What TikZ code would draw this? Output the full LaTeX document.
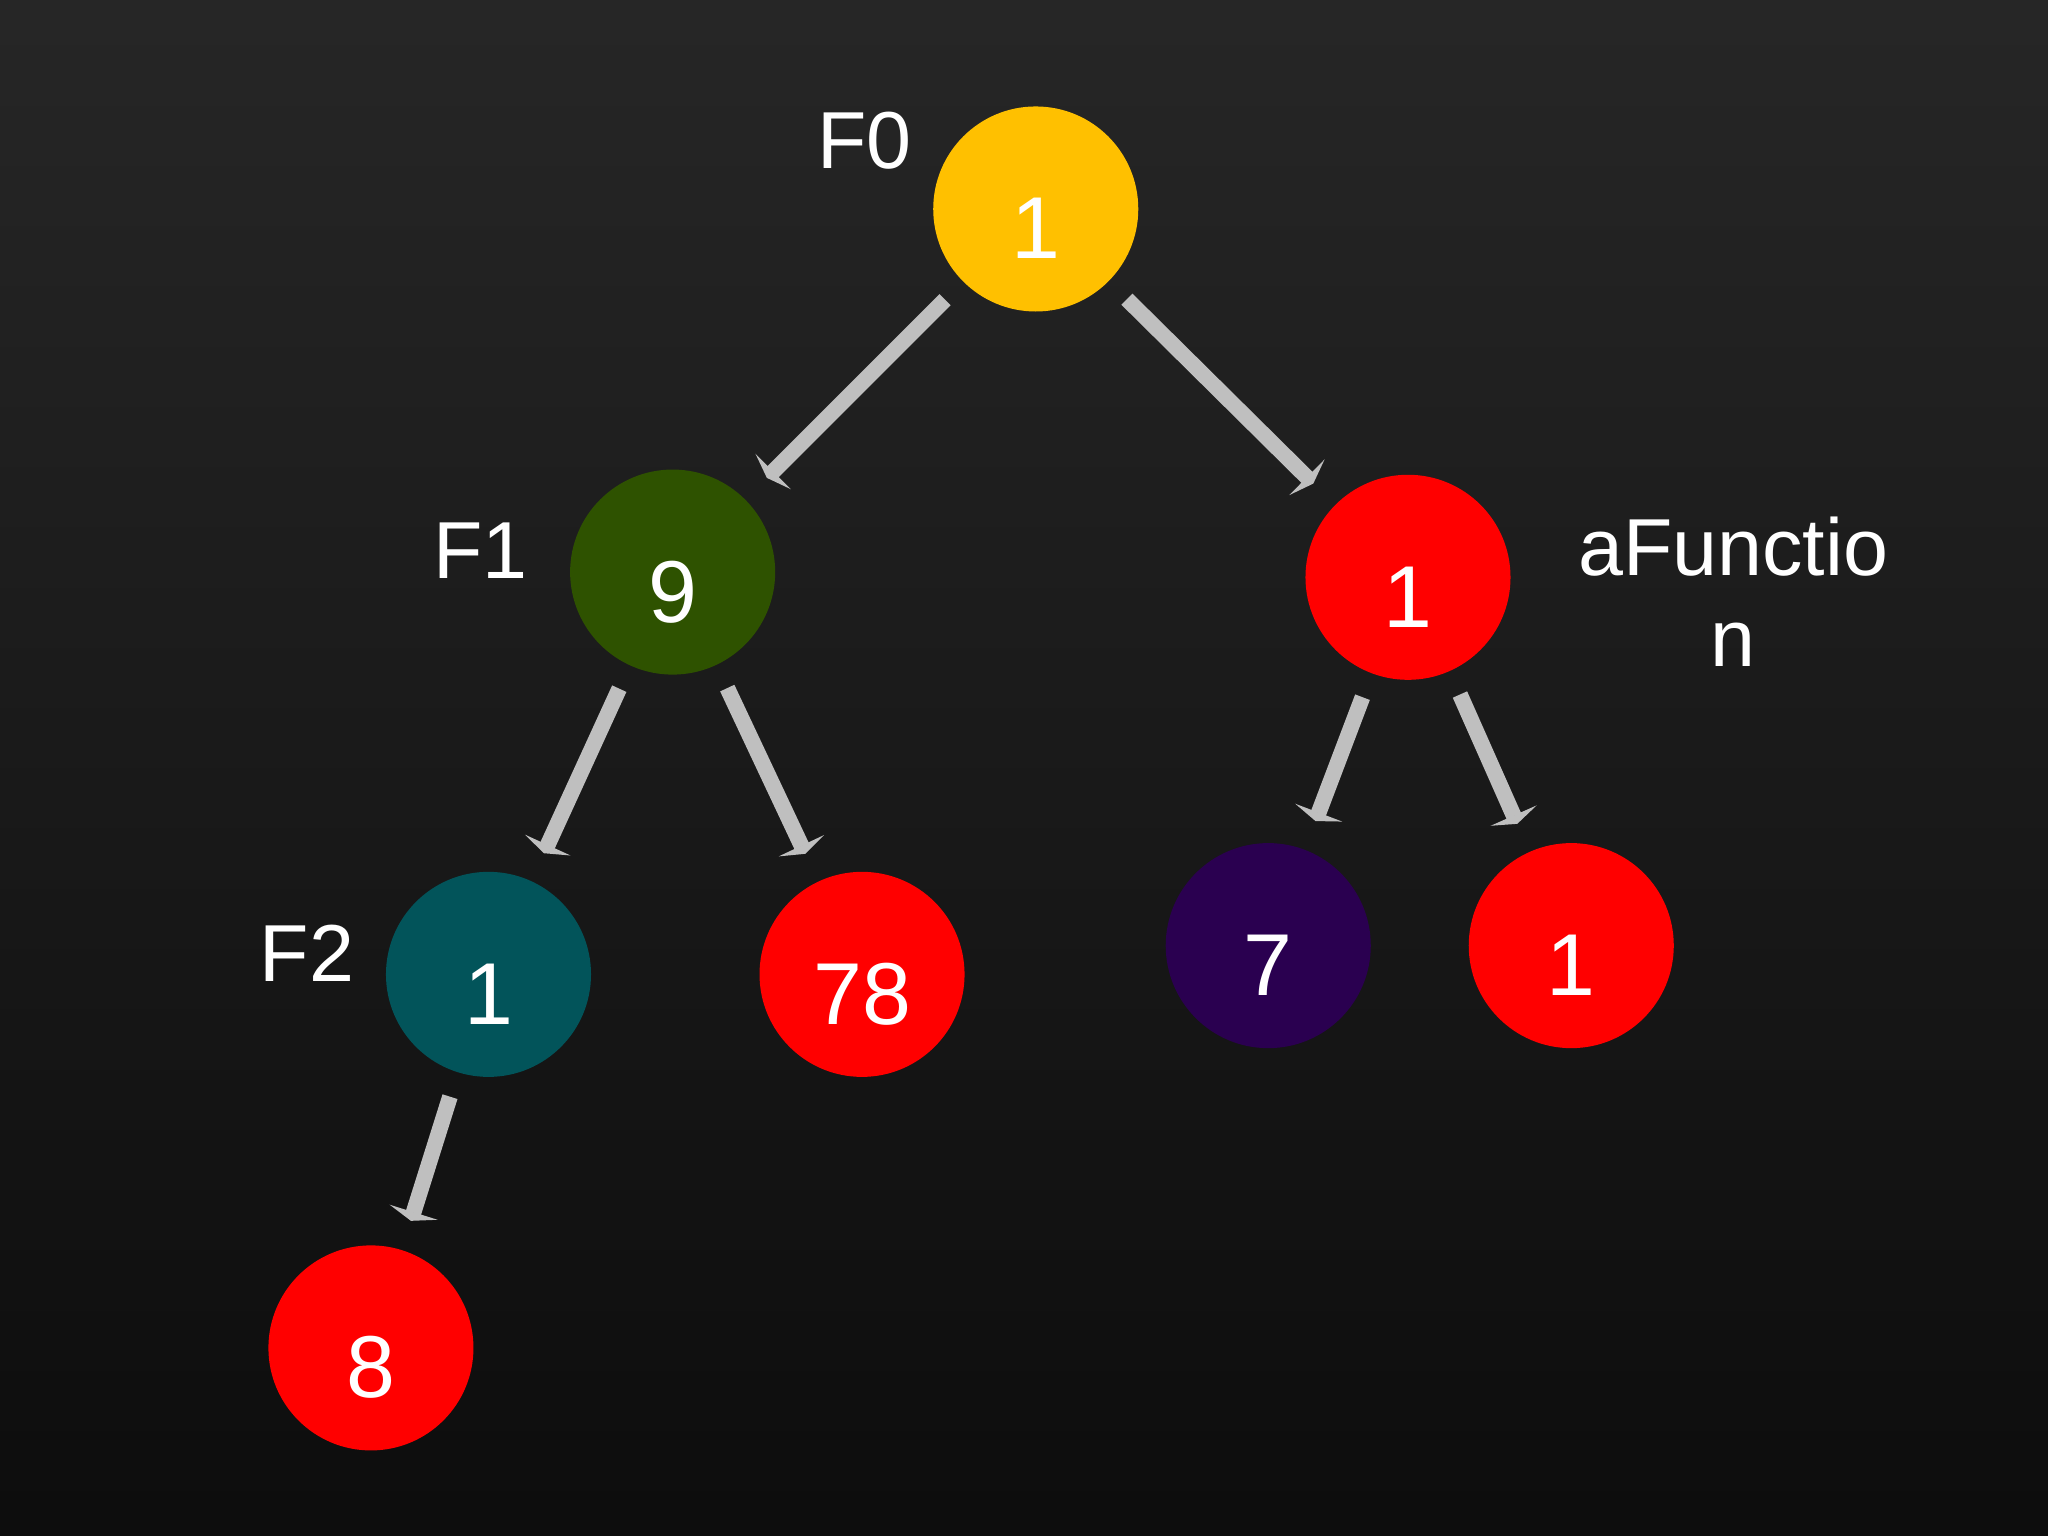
\documentclass[tikz,border=0pt]{standalone}
\usepackage{fontspec}
\setmainfont{Liberation Sans}
\usetikzlibrary{arrows.meta}
\definecolor{cy}{HTML}{FFC000}
\definecolor{cg}{HTML}{2E5200}
\definecolor{ct}{HTML}{02545A}
\definecolor{cp}{HTML}{2A0050}
\definecolor{cr}{HTML}{FF0000}
\definecolor{ca}{HTML}{BFBFBF}
\newcommand{\nl}[1]{\raisebox{-0.5cm}[0pt][0pt]{#1}}
\begin{document}
\begin{tikzpicture}[x=0.01306cm,y=-0.01306cm,
  nd/.style={circle,minimum size=157*0.01306cm,inner sep=0pt,text=white,font=\fontsize{25}{25}\selectfont},
  lb/.style={text=white,font=\fontsize{23}{26}\selectfont,align=center},
  ar/.style={draw=ca,line width=12*0.01306cm,shorten <=0.25cm,shorten >=0.3cm,-{Triangle[length=0.09cm,width=0.5cm]}}]
\shade[top color=black!85,bottom color=black!95] (0,0) rectangle (1568,1176);
\useasboundingbox (0,0) rectangle (1568,1176);
\node[nd,fill=cy] (n0) at (793,160) {\nl{1}};
\node[nd,fill=cg] (n1) at (515,438) {\nl{9}};
\node[nd,fill=cr] (n2) at (1078,442) {\nl{1}};
\node[nd,fill=ct] (n3) at (374,746) {\nl{1}};
\node[nd,fill=cr] (n4) at (660,746) {\nl{78}};
\node[nd,fill=cp] (n5) at (971,724) {\nl{7}};
\node[nd,fill=cr] (n6) at (1203,724) {\nl{1}};
\node[nd,fill=cr] (n7) at (284,1032) {\nl{8}};
\node[lb] (l0) at (662,108) {F0};
\node[lb] (l1) at (368,422) {F1};
\node[lb] (l2) at (235,730) {F2};
\node[lb] (l3) at (1327,453) {aFunctio\\n};
\draw[ar] (n0) -- (n1);
\draw[ar] (n0) -- (n2);
\draw[ar] (n1) -- (n3);
\draw[ar] (n1) -- (n4);
\draw[ar] (n2) -- (n5);
\draw[ar] (n2) -- (n6);
\draw[ar] (n3) -- (n7);
\end{tikzpicture}
\end{document}
